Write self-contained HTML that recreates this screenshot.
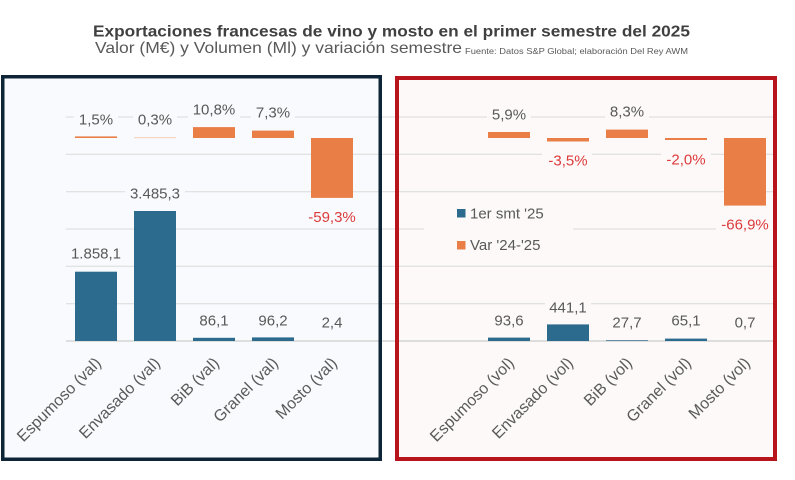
<!DOCTYPE html>
<html><head><meta charset="utf-8"><style>
html,body{margin:0;padding:0;background:#fff;}
svg{display:block;}
text{font-family:"Liberation Sans",sans-serif;}
</style></head><body>
<svg width="795" height="480" viewBox="0 0 795 480" xmlns="http://www.w3.org/2000/svg">
<rect x="0" y="0" width="795" height="480" fill="#ffffff"/>
<!-- titles -->
<text x="391.5" y="36.7" text-anchor="middle" font-size="16" font-weight="bold" fill="#404040" textLength="597" lengthAdjust="spacingAndGlyphs">Exportaciones francesas de vino y mosto en el primer semestre del 2025</text>
<text x="95" y="53" font-size="16" fill="#595959" textLength="367" lengthAdjust="spacingAndGlyphs">Valor (M€) y Volumen (Ml) y variación semestre</text>
<text x="465" y="54" font-size="8" fill="#595959" textLength="223" lengthAdjust="spacingAndGlyphs">Fuente: Datos S&amp;P Global; elaboración Del Rey AWM</text>

<!-- panel fills -->
<rect x="1" y="75" width="381" height="386" fill="#f8fafd"/>
<rect x="395" y="76" width="382" height="385" fill="#fdf9f9"/>

<!-- gridlines -->
<g stroke="#d9d9d9" stroke-width="1">
<line x1="66" y1="117" x2="773" y2="117"/>
<line x1="66" y1="154.3" x2="773" y2="154.3"/>
<line x1="66" y1="191.7" x2="773" y2="191.7"/>
<line x1="66" y1="229" x2="773" y2="229"/>
<line x1="66" y1="266.3" x2="773" y2="266.3"/>
<line x1="66" y1="303.7" x2="773" y2="303.7"/>
</g>
<line x1="66" y1="341" x2="773" y2="341" stroke="#d4d4d4" stroke-width="1.5"/>

<!-- left bars blue -->
<g fill="#2c6b8e">
<rect x="75" y="271.7" width="42" height="69.3"/>
<rect x="134" y="211" width="42" height="130"/>
<rect x="193" y="337.8" width="42" height="3.2"/>
<rect x="252" y="337.4" width="42" height="3.6"/>
</g>
<!-- left bars orange -->
<g fill="#e97f47">
<rect x="75" y="136.4" width="42" height="1.6"/>
<rect x="134" y="137.5" width="42" height="0.6" opacity="0.6"/>
<rect x="193" y="127.1" width="42" height="10.9"/>
<rect x="252" y="130.6" width="42" height="7.4"/>
<rect x="311" y="138" width="42" height="59.9"/>
</g>

<!-- right bars blue -->
<g fill="#2c6b8e">
<rect x="488" y="337.6" width="42" height="3.4"/>
<rect x="547" y="324.4" width="42" height="16.6"/>
<rect x="606" y="340" width="42" height="1" opacity="0.7"/>
<rect x="665" y="338.6" width="42" height="2.4"/>
</g>
<!-- right bars orange -->
<g fill="#e97f47">
<rect x="488" y="132" width="42" height="6"/>
<rect x="547" y="138" width="42" height="3.5"/>
<rect x="606" y="129.6" width="42" height="8.4"/>
<rect x="665" y="138" width="42" height="2"/>
<rect x="724" y="138" width="42" height="67.6"/>
</g>

<!-- label backgrounds left -->
<g fill="#f8fafd">
<rect x="74" y="109" width="44" height="20"/>
<rect x="133" y="109" width="44" height="20"/>
<rect x="188" y="99" width="52" height="20"/>
<rect x="251" y="102" width="44" height="20"/>
<rect x="303" y="207" width="58" height="20"/>
<rect x="125" y="183" width="60" height="20"/>
<rect x="66" y="243" width="60" height="20"/>
<rect x="195" y="310" width="38" height="20"/>
<rect x="254" y="310" width="38" height="20"/>
<rect x="317" y="312" width="30" height="20"/>
</g>
<!-- label backgrounds right -->
<g fill="#fdf9f9">
<rect x="487" y="104" width="44" height="20"/>
<rect x="542" y="150" width="50" height="20"/>
<rect x="605" y="101" width="44" height="20"/>
<rect x="661" y="149" width="50" height="20"/>
<rect x="716" y="214" width="58" height="20"/>
<rect x="490" y="310" width="38" height="20"/>
<rect x="545" y="297" width="46" height="20"/>
<rect x="608" y="312" width="38" height="20"/>
<rect x="667" y="310" width="38" height="20"/>
<rect x="730" y="312" width="30" height="20"/>
<rect x="424" y="196" width="149" height="66"/>
</g>

<!-- value labels left -->
<g font-size="15" fill="#595959" text-anchor="middle">
<text x="96" y="124.5">1,5%</text>
<text x="155" y="124.5">0,3%</text>
<text x="214" y="114.5">10,8%</text>
<text x="273" y="117.5">7,3%</text>
<text x="155" y="198.5">3.485,3</text>
<text x="96" y="258.5">1.858,1</text>
<text x="214" y="325.5">86,1</text>
<text x="273" y="325.5">96,2</text>
<text x="332" y="327.5">2,4</text>
</g>
<text x="332" y="222" font-size="15" fill="#dd3b3b" text-anchor="middle">-59,3%</text>

<!-- value labels right -->
<g font-size="15" fill="#595959" text-anchor="middle">
<text x="509" y="119.5">5,9%</text>
<text x="627" y="116.5">8,3%</text>
<text x="509" y="325.5">93,6</text>
<text x="568" y="312.5">441,1</text>
<text x="627" y="327.5">27,7</text>
<text x="686" y="325.5">65,1</text>
<text x="745" y="327.5">0,7</text>
</g>
<g font-size="15" fill="#dd3b3b" text-anchor="middle">
<text x="568" y="165.5">-3,5%</text>
<text x="686" y="164.5">-2,0%</text>
<text x="745" y="229.5">-66,9%</text>
</g>

<!-- legend -->
<rect x="457" y="209" width="8.5" height="8.5" fill="#2c6b8e"/>
<text x="470" y="218.5" font-size="15" fill="#595959">1er smt '25</text>
<rect x="457" y="241" width="8.5" height="8.5" fill="#e97f47"/>
<text x="470" y="250" font-size="15" fill="#595959">Var '24-'25</text>

<!-- category labels left -->
<g font-size="16" fill="#595959" text-anchor="end">
<text transform="translate(102,364) rotate(-45)">Espumoso (val)</text>
<text transform="translate(161,364) rotate(-45)">Envasado (val)</text>
<text transform="translate(220,364) rotate(-45)">BiB (val)</text>
<text transform="translate(279,364) rotate(-45)">Granel (val)</text>
<text transform="translate(338,364) rotate(-45)">Mosto (val)</text>
</g>
<!-- category labels right -->
<g font-size="16" fill="#595959" text-anchor="end">
<text transform="translate(515,364) rotate(-45)">Espumoso (vol)</text>
<text transform="translate(574,364) rotate(-45)">Envasado (vol)</text>
<text transform="translate(633,364) rotate(-45)">BiB (vol)</text>
<text transform="translate(692,364) rotate(-45)">Granel (vol)</text>
<text transform="translate(751,364) rotate(-45)">Mosto (vol)</text>
</g>

<!-- panel borders -->
<rect x="2.75" y="76.75" width="377.5" height="382.5" fill="none" stroke="#0e2537" stroke-width="3.5"/>
<rect x="397" y="78" width="378" height="381" fill="none" stroke="#b7141c" stroke-width="4"/>
</svg>
</body></html>
